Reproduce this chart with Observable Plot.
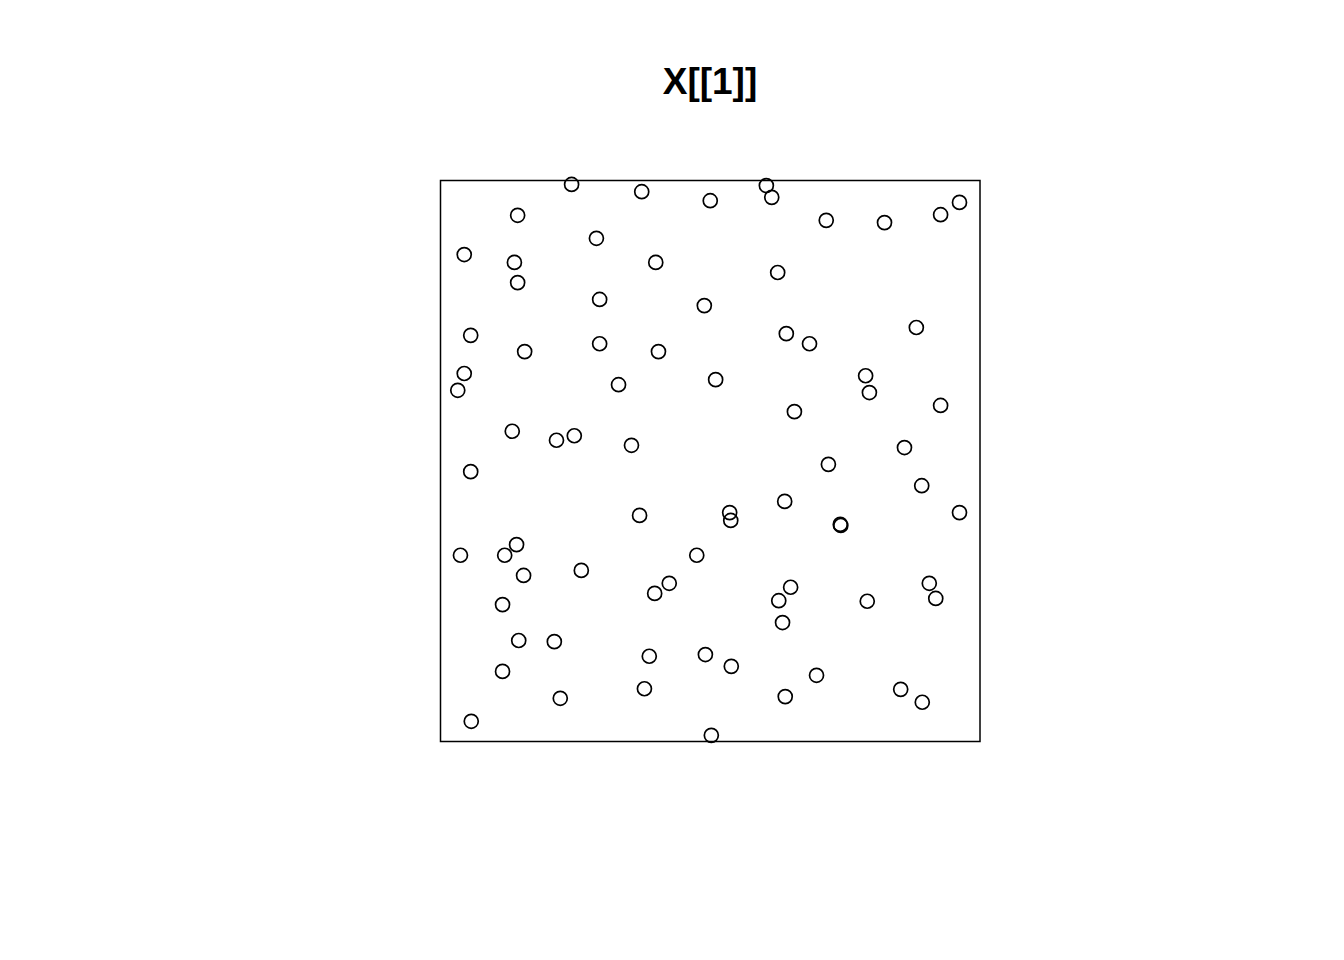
<!DOCTYPE html>
<html>
<head>
<meta charset="utf-8">
<script src="https://cdn.jsdelivr.net/npm/d3@7"></script>
<script src="https://cdn.jsdelivr.net/npm/@observablehq/plot@0.6"></script>
<style>
  html, body { margin: 0; padding: 0; background: #fff; }
  #wrap { position: relative; width: 1344px; height: 960px; }
  #title { position: absolute; left: 440px; width: 540px; top: 63px; text-align: center;
           font-family: "Liberation Sans", Arial, Helvetica, sans-serif; font-weight: bold;
           font-size: 37px; line-height: 37px; color: #000; }
  #chart { position: absolute; left: 0; top: 160px; }
</style>
</head>
<body>
<div id="wrap">
  <div id="title">X[[1]]</div>
  <div id="chart"></div>
</div>
<script>
const titleText = "X[[1]]";
const xs = [0.243,0.373,0.500,0.604,0.614,0.143,0.715,0.823,0.927,0.962,
            0.044,0.289,0.137,0.143,0.399,0.625,0.295,0.489,0.056,0.156,
            0.295,0.404,0.641,0.684,0.882,0.044,0.032,0.330,0.510,0.788,
            0.795,0.927,0.656,0.133,0.215,0.248,0.354,0.860,0.056,0.719,
            0.892,0.369,0.536,0.538,0.638,0.741,0.742,0.962,0.037,0.119,
            0.141,0.154,0.261,0.475,0.424,0.397,0.649,0.627,0.791,0.906,
            0.918,0.115,0.634,0.145,0.211,0.387,0.491,0.539,0.115,0.697,
            0.378,0.222,0.639,0.853,0.893,0.057,0.502];
const ys = [0.993,0.980,0.964,0.991,0.970,0.938,0.929,0.925,0.939,0.961,
            0.868,0.897,0.854,0.818,0.854,0.836,0.788,0.777,0.724,0.695,
            0.709,0.695,0.727,0.709,0.738,0.656,0.626,0.636,0.645,0.652,
            0.622,0.599,0.588,0.553,0.537,0.545,0.528,0.524,0.481,0.494,
            0.456,0.403,0.408,0.394,0.428,0.387,0.385,0.408,0.332,0.332,
            0.351,0.296,0.305,0.332,0.282,0.264,0.275,0.251,0.250,0.282,
            0.255,0.244,0.212,0.180,0.178,0.152,0.155,0.134,0.125,0.118,
            0.094,0.077,0.080,0.093,0.070,0.036,0.011];
const windowX = [0, 1];
const windowY = [0, 1];

const points = xs.map((x, i) => ({x, y: ys[i]}));
document.getElementById("title").textContent = titleText;

const chart = Plot.plot({
  width: 1344,
  height: 800,
  marginLeft: 440,
  marginRight: 364.5,
  marginTop: 20,
  marginBottom: 219,
  x: {domain: windowX, axis: null},
  y: {domain: windowY, axis: null},
  marks: [
    Plot.frame({stroke: "#000", strokeWidth: 1.5}),
    Plot.dot(points, {x: "x", y: "y", r: 7, stroke: "#000", strokeWidth: 1.7, fill: "none"})
  ]
});
document.getElementById("chart").appendChild(chart);
</script>
</body>
</html>
